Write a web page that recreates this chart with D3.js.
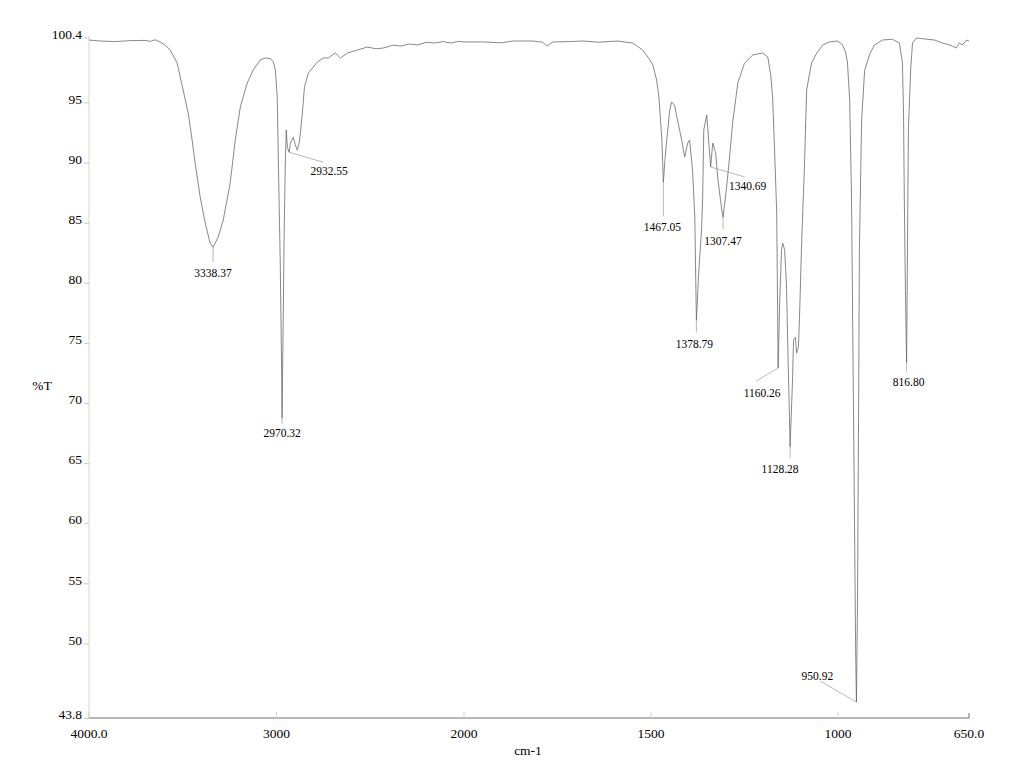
<!DOCTYPE html>
<html>
<head>
<meta charset="utf-8">
<script src="https://cdn.jsdelivr.net/npm/d3@7"></script>
<style>
  html, body { margin: 0; padding: 0; background: #fff; }
  svg { display: block; }
</style>
</head>
<body>
<svg id="chart" width="1024" height="761"></svg>
<script>
// Wavenumbers (cm-1) and transmittance (%T)
const wavenumbers = [4000,3941,3861,3781,3701,3674,3647,3621,3594,3567,3530,3498,3471,3450,3434,3407,3380,3354,3338.37,3311,3284,3247,3220,3193,3156,3124,3087,3060,3033,3017,3006,2996,2990,2980,2972,2970.32,2965,2959,2953,2948,2942,2932.55,2926,2910,2900,2889,2878,2862,2851,2830,2782,2750,2723,2702,2686,2659,2622,2568,2515,2470,2429,2380,2339,2290,2248,2200,2162,2110,2071,2030,2000,
  1949,1900,1869,1816,1790,1778,1762,1720,1682,1640,1591,1549,1522,1503,1495,1485,1479,1471,1467.05,1463,1458,1450,1445,1437,1431,1418,1410,1402,1397,1389,1383,1378.79,1373,1370,1365,1362,1359,1351,1346,1340.69,1335,1327,1322,1311,1307.47,1298,1290,1282,1268,1250,1228,1202,1188,1180,1175,1170,1164,1160.26,1156,1151,1148,1143,1138,1135,1130,1128.28,1122,1119,1114,1111,1106,1103,1098,1090,1084,1071,1057,1041,1023,1001,988,980,975,969,964,959,953,950.92,948,945,943,937,929,916,903,881,855,836,828,825,823,820,816.80,812,806,801,790,764,742,721,702,684,676,668,657,650];
const transmittance = [100.23,100.15,100.1,100.18,100.2,100.12,100.25,100.07,99.82,99.4,98.32,96.07,94.16,91.91,90.0,87.17,85.0,83.34,83.0,83.84,85.26,88.34,91.91,94.66,96.66,97.74,98.57,98.74,98.7,98.4,97.74,95.49,90.0,81.68,71.94,68.8,76.1,84.4,90.0,92.75,91.3,90.9,91.66,92.16,91.5,91.08,91.75,94.16,96.32,97.49,98.4,98.74,98.74,98.99,99.15,98.74,99.15,99.4,99.65,99.5,99.57,99.8,99.73,99.9,99.82,100.05,99.98,100.1,99.98,100.12,100.07,
  100.07,100.0,100.15,100.15,100.05,99.73,100.07,100.1,100.15,100.05,100.15,99.98,99.4,98.57,98.15,96.9,95.49,91.91,88.4,90.2,91.91,94.4,95.08,94.8,93.83,91.91,90.5,91.66,91.91,89.42,85.5,76.9,80.6,82.1,84.4,87.17,92.75,94.0,91.91,89.67,91.66,90.8,88.84,86.1,85.5,88.0,90.5,93.33,96.66,98.32,98.99,99.15,98.82,97.32,95.49,91.33,85.84,72.95,78.6,82.8,83.34,82.8,80.0,75.5,68.9,66.4,71.7,75.3,75.5,74.2,74.7,77.2,82.8,89.67,96.07,98.32,99.15,99.82,100.07,100.15,99.82,99.23,98.4,95.24,86.9,70.3,49.5,45.16,53.6,70.3,82.8,93.6,97.7,99.0,99.82,100.23,100.3,99.98,98.32,94.16,87.17,79.4,73.4,92.75,97.74,99.98,100.4,100.3,100.23,99.98,99.82,99.57,99.98,99.82,100.23,100.15];

// Peak annotations
const peakWavenumbers = [3338.37,2970.32,2932.55,1467.05,1378.79,1340.69,1307.47,1160.26,1128.28,950.92,816.80];
const peakTransmittance = [83.0,68.8,90.9,88.4,76.9,89.67,85.5,72.95,66.4,45.16,73.4];
const peakLabels = ["3338.37","2970.32","2932.55","1467.05","1378.79","1340.69","1307.47","1160.26","1128.28","950.92","816.80"];
// label offsets from the peak (px) : [dx, dy] of the label centre
const peakLabelOffsets = [[0,26],[0,15],[40,19],[-1,45],[-2,23],[37,19],[0,24],[-16,25],[-10,22],[-39,-26],[2,19]];
const peakLeaderEnds = [[0,15],[0,6],[34,10],[0,34],[0,12],[34,10],[0,12],[-22,13],[0,11],[-36,-21],[0,9]];

const xTickValues = [4000,3000,2000,1500,1000,650];
const xTickLabels = ["4000.0","3000","2000","1500","1000","650.0"];
const yTickValues = [100.4,95,90,85,80,75,70,65,60,55,50,43.8];
const yTickLabels = ["100.4","95","90","85","80","75","70","65","60","55","50","43.8"];

const FONT = "'Liberation Serif', 'Times New Roman', Times, 'DejaVu Serif', serif";
const svg = d3.select("#chart").attr("font-family", FONT);
const x = d3.scaleLinear().domain([4000, 2000, 650]).range([89, 464, 969]);
const y = d3.scaleLinear().domain([43.8, 100.4]).range([718.5, 38]);

// y axis (light)
svg.append("line").attr("x1", 89).attr("x2", 89).attr("y1", 36).attr("y2", 718)
  .attr("stroke", "#e4e4e4").attr("stroke-width", 1.5);
yTickValues.forEach((v, i) => {
  svg.append("line").attr("x1", 84).attr("x2", 89).attr("y1", y(v)).attr("y2", y(v))
    .attr("stroke", "#c8c8c8").attr("stroke-width", 1);
  svg.append("text").attr("x", 82).attr("y", y(v) - 4).attr("dy", "0.35em")
    .attr("font-family", FONT).attr("text-anchor", "end").attr("font-size", 13.5).text(yTickLabels[i]);
});

// x axis
svg.append("line").attr("x1", 89).attr("x2", 969).attr("y1", 718).attr("y2", 718)
  .attr("stroke", "#707070").attr("stroke-width", 1.2);
xTickValues.forEach((v, i) => {
  const last = i === xTickValues.length - 1;
  svg.append("line").attr("x1", x(v)).attr("x2", x(v)).attr("y1", 718).attr("y2", last ? 713 : 712)
    .attr("stroke", last ? "#707070" : "#d0d0d0").attr("stroke-width", 1);
  svg.append("text").attr("x", x(v)).attr("y", 733).attr("dy", "0.35em")
    .attr("font-family", FONT).attr("text-anchor", "middle").attr("font-size", 13.5).text(xTickLabels[i]);
});

svg.append("text").attr("x", 528).attr("y", 750).attr("dy", "0.35em")
  .attr("font-family", FONT).attr("text-anchor", "middle").attr("font-size", 13.5).text("cm-1");
svg.append("text").attr("x", 42).attr("y", 385).attr("dy", "0.35em")
  .attr("font-family", FONT).attr("text-anchor", "middle").attr("font-size", 13.5).text("%T");

// spectrum
const pts = wavenumbers.map((w, i) => [w, transmittance[i]]);
const line = d3.line().x(d => x(d[0])).y(d => y(d[1]));
svg.append("path").datum(pts).attr("d", line)
  .attr("fill", "none").attr("stroke", "#6a6a6a").attr("stroke-width", 0.8);

// peak labels
peakWavenumbers.forEach((w, i) => {
  const px = x(w), py = y(peakTransmittance[i]);
  const le = peakLeaderEnds[i];
  svg.append("line").attr("x1", px).attr("y1", py).attr("x2", px + le[0]).attr("y2", py + le[1])
    .attr("stroke", "#999").attr("stroke-width", 0.7);
  const o = peakLabelOffsets[i];
  svg.append("text").attr("x", px + o[0]).attr("y", py + o[1]).attr("dy", "0.35em")
    .attr("font-family", FONT).attr("text-anchor", "middle").attr("font-size", 11.5).text(peakLabels[i]);
});
</script>
</body>
</html>
